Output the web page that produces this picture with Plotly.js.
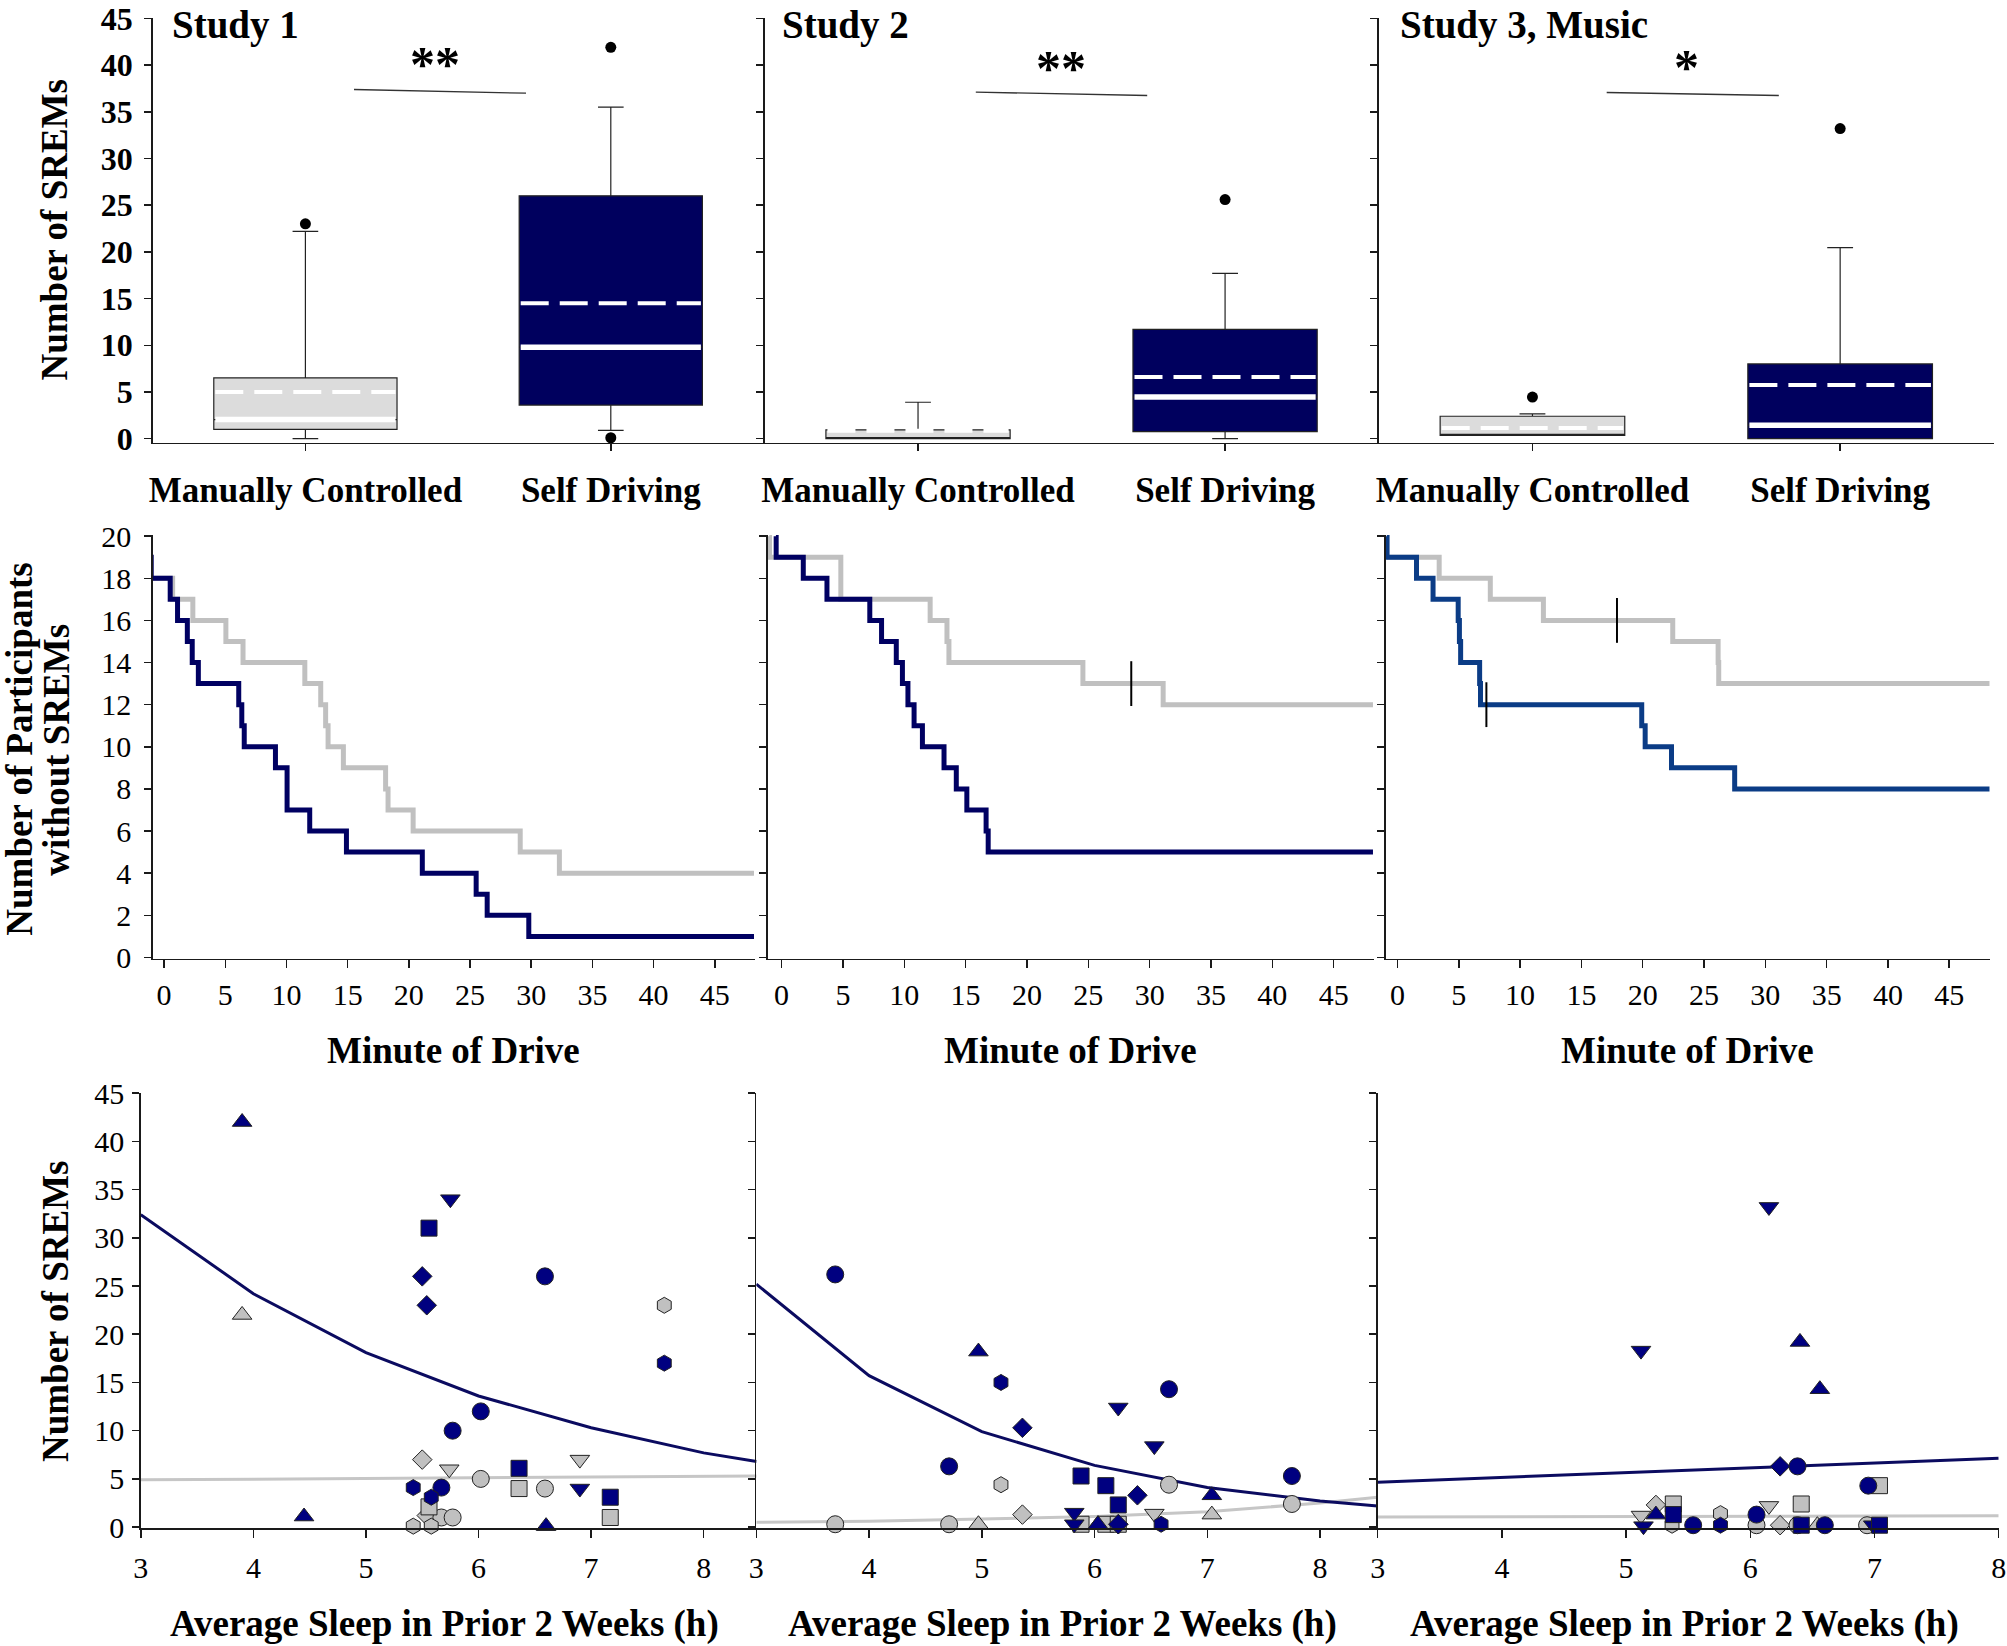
<!DOCTYPE html>
<html><head><meta charset="utf-8">
<script src="https://cdn.plot.ly/plotly-3.0.1.min.js"></script>
<style>html,body{margin:0;padding:0;background:#fff}#chart{width:2007px;height:1646px}</style>
</head><body><div id="chart"></div>
<script>
// ================= DATA =================
const groups = ['Manually Controlled', 'Self Driving'];
const studies = ['Study 1', 'Study 2', 'Study 3, Music'];
const sigLabels = ['**', '**', '*'];

// Box plot statistics, one row per study: [manual, self]
const boxQ1     = [[1.0, 3.6],  [0.0, 0.75], [0.35, 0.0]];
const boxMedian = [[2.05, 9.8], [0.0, 4.45], [0.35, 1.45]];
const boxQ3     = [[6.5, 26.0], [0.95, 11.7], [2.4, 8.0]];
const boxLower  = [[0.0, 0.9],  [0.0, 0.0],  [0.35, 0.0]];
const boxUpper  = [[22.2, 35.5],[3.9, 17.7], [2.65, 20.45]];
const boxMean   = [[5.0, 14.5], [0.85, 6.6], [1.15, 5.75]];
const outManual = [[23.0], [], [4.45]];
const outSelf   = [[41.9, 0.1], [25.6], [33.2]];

// Kaplan-Meier style step curves: minute of drive vs participants without SREMs
const km1ManT = [-1.1, 0.7, 2.35, 5.05, 6.45, 11.5, 12.8, 13.2, 13.4, 14.65, 18.1, 18.3, 20.35, 29.1, 32.3, 48.2];
const km1ManN = [18, 17, 16, 15, 14, 13, 12, 11, 10, 9, 8, 7, 6, 5, 4, 4];
const km1SelfT = [-1.1, -1.05, 0.5, 1.1, 1.9, 2.3, 2.8, 6.1, 6.35, 6.55, 9.1, 10.05, 11.9, 14.9, 21.1, 25.5, 26.4, 29.8, 48.2];
const km1SelfN = [19, 18, 17, 16, 15, 14, 13, 12, 11, 10, 9, 7, 6, 5, 4, 3, 2, 1, 1];
const km2ManT = [-1.0, -0.98, 4.83, 12.11, 13.48, 13.64, 24.56, 31.1, 48.2];
const km2ManN = [20, 19, 17, 16, 15, 14, 13, 12, 12];
const km2SelfT = [-0.46, -0.44, 1.77, 3.7, 7.19, 8.15, 9.35, 9.85, 10.3, 10.8, 11.48, 13.24, 14.24, 15.1, 16.67, 16.84, 48.2];
const km2SelfN = [20, 19, 18, 17, 16, 15, 14, 13, 12, 11, 10, 9, 8, 7, 6, 5, 5];
const km3ManT = [-0.87, 3.4, 7.57, 11.9, 22.45, 26.15, 26.2, 48.3];
const km3ManN = [19, 18, 17, 16, 15, 14, 13, 13];
const km3SelfT = [-0.87, -0.85, 1.55, 2.9, 4.95, 5.05, 5.15, 6.7, 6.77, 19.92, 20.2, 22.35, 27.5, 48.3];
const km3SelfN = [20, 19, 18, 17, 16, 15, 14, 13, 12, 11, 10, 9, 8, 8];
// censored observations
const km2ManCensT = [28.5];  const km2ManCensN = [13];
const km3ManCensT = [17.9];  const km3ManCensN = [16];
const km3SelfCensT = [7.25]; const km3SelfCensN = [12];

// Scatter: average sleep (h) vs number of SREMs; participant marker group letter
const sc1SelfX = [3.90, 4.45, 6.60, 5.75, 6.90, 5.56, 6.36, 7.17, 5.50, 5.54, 6.59, 6.02, 5.77, 5.67, 7.65, 5.42, 5.58];
const sc1SelfY = [42.0, 1.1, 0.1, 34.0, 4.0, 31.0, 6.1, 3.1, 26.0, 23.0, 26.0, 12.0, 10.0, 4.1, 17.0, 4.1, 3.1];
const sc1SelfG = ['B','B','B','C','C','D','D','D','E','E','A','A','A','A','F','F','F'];
const sc1ManX = [3.90, 5.74, 6.90, 5.50, 5.54, 6.02, 6.59, 5.67, 5.77, 6.36, 7.17, 5.56, 7.65, 5.42, 5.58];
const sc1ManY = [22.0, 6.0, 7.0, 7.0, 1.2, 5.0, 4.0, 1.0, 1.0, 4.0, 1.0, 2.1, 23.0, 0.1, 0.1];
const sc1ManG = ['B','C','C','E','E','A','A','A','A','D','D','D','F','F','F'];
const reg1X = [3, 4, 5, 6, 7, 8, 8.47];
const reg1Self = [32.4, 24.2, 18.1, 13.6, 10.3, 7.7, 6.8];
const reg1ManX = [3, 8.47];
const reg1Man = [4.9, 5.3];

const sc2SelfX = [3.70, 4.71, 6.66, 7.75, 5.17, 6.59, 4.97, 7.04, 6.03, 5.36, 6.38, 6.21, 6.21, 6.53, 5.82, 5.82, 5.88, 6.10, 6.21];
const sc2SelfY = [26.2, 6.3, 14.3, 5.3, 15.0, 0.3, 18.2, 3.3, 0.3, 10.3, 3.3, 0.3, 12.4, 8.4, 1.5, 0.3, 5.3, 4.3, 2.3];
const sc2SelfG = ['A','A','A','A','F','F','B','B','B','E','E','E','C','C','C','C','D','D','D'];
const sc2ManX = [3.70, 4.71, 6.66, 7.75, 5.17, 4.97, 7.04, 6.03, 5.36, 6.21, 6.53, 5.88, 6.10, 6.21];
const sc2ManY = [0.3, 0.3, 4.4, 2.4, 4.4, 0.3, 1.3, 0.3, 1.3, 0.3, 1.4, 0.3, 0.3, 0.3];
const sc2ManG = ['A','A','A','A','F','B','B','B','E','E','C','D','D','D'];
const reg2X = [3, 4, 5, 6, 7, 8, 8.51];
const reg2Self = [25.2, 15.7, 9.9, 6.4, 4.1, 2.7, 2.2];
const reg2Man = [0.5, 0.6, 0.85, 1.1, 1.6, 2.5, 3.1];

const sc3SelfX = [6.15, 5.12, 5.14, 6.99, 6.40, 6.56, 5.24, 6.24, 6.38, 6.95, 6.05, 5.54, 6.60, 5.76, 5.38, 6.41, 7.04];
const sc3SelfY = [33.2, 18.3, 0.1, 0.2, 19.2, 14.3, 1.3, 6.3, 6.3, 4.3, 1.3, 0.2, 0.2, 0.2, 1.3, 0.2, 0.2];
const sc3SelfG = ['C','C','C','C','B','B','B','E','A','A','A','A','A','F','D','D','D'];
const sc3ManX = [7.04, 6.41, 5.38, 5.24, 6.24, 5.12, 6.15, 5.76, 5.37, 6.05, 6.38, 6.94, 6.54];
const sc3ManY = [4.3, 2.4, 2.4, 2.3, 0.2, 1.2, 2.2, 1.4, 0.2, 0.2, 0.2, 0.2, 0.2];
const sc3ManG = ['D','D','D','E','E','C','C','F','F','A','A','A','B'];
const reg3X = [3, 8];
const reg3Self = [4.65, 7.15];
const reg3Man = [1.05, 1.17];

// ================= STYLE =================
const FONT = 'Liberation Serif, "Times New Roman", serif';
const W = 2007, H = 1646;
const px = v => v / W;
const py = v => 1 - v / H;
const NAVY_BOX = '#00005e', LIGHT_BOX = '#dcdcdc';
const KM_NAVY = '#000062', KM_GRAY = '#c0c0c0', KM_BLUE = '#0b3c86';
const SC_NAVY = '#000080', SC_GRAY = '#c0c0c0';
const REG_NAVY = '#0b0b60', REG_GRAY = '#c6c6c6';
const AX = '#1a1a1a';
const SYM = {A:'circle', B:'triangle-up', C:'triangle-down', D:'square', E:'diamond', F:'hexagon'};
const SYMSIZE = {A:17, B:17, C:17, D:16, E:15, F:16};
const BOXW = 0.6;

const traces = [];
const layout = {
  width: W, height: H, margin: {l:0, r:0, t:0, b:0},
  paper_bgcolor: '#fff', plot_bgcolor: 'rgba(0,0,0,0)',
  showlegend: false, font: {family: FONT, color: '#000'},
  annotations: [], shapes: []
};
function axisBase(o) {
  return Object.assign({showline:true, linecolor:AX, linewidth:1.5, ticks:'outside', tickcolor:AX,
    tickwidth:1.5, ticklen:7, showgrid:false, zeroline:false, fixedrange:true, ticklabeloverflow:'allow'}, o);
}

// ---------- Row 1: box plots ----------
const topX = [[152.7, 763.5], [764.5, 1378.6], [1378.6, 1994]];
const topY = [18.2, 442.7];
for (let s = 0; s < 3; s++) {
  const n = s + 1;
  const xa = 'x' + n, ya = 'y' + n;
  layout['xaxis' + n] = axisBase({domain:[px(topX[s][0]), px(topX[s][1])], range:[-0.5, 1.5], anchor:ya,
    tickvals:[0, 1], ticktext:groups, tickfont:{family:FONT, size:35, weight:'bold'}, ticklabelstandoff:9});
  layout['yaxis' + n] = axisBase({domain:[py(topY[1]), py(topY[0])], range:[-0.43, 45.02], anchor:xa,
    tickvals:[0,5,10,15,20,25,30,35,40,45], showticklabels:s === 0,
    tickfont:{family:FONT, size:32, weight:'bold'}, ticklabelstandoff:5});
  for (let g = 0; g < 2; g++) {
    traces.push({type:'box', x:[g], q1:[boxQ1[s][g]], median:[boxMedian[s][g]], q3:[boxQ3[s][g]],
      lowerfence:[boxLower[s][g]], upperfence:[boxUpper[s][g]], width:BOXW, whiskerwidth:0.14,
      fillcolor: g === 0 ? LIGHT_BOX : NAVY_BOX, line:{color:'#222', width:1.2},
      boxpoints:false, hoverinfo:'skip', xaxis:xa, yaxis:ya});
    if (boxMedian[s][g] > boxQ1[s][g]) {
      traces.push({type:'scatter', mode:'lines', x:[g - BOXW/2 + 0.005, g + BOXW/2 - 0.005],
        y:[boxMedian[s][g], boxMedian[s][g]], line:{color:'#fff', width:5.5}, hoverinfo:'skip', xaxis:xa, yaxis:ya});
    }
    traces.push({type:'scatter', mode:'lines', x:[g - BOXW/2 + 0.005, g + BOXW/2 - 0.005],
      y:[boxMean[s][g], boxMean[s][g]], line:{color:'#fff', width:4, dash:'28px,11px'}, hoverinfo:'skip', xaxis:xa, yaxis:ya});
    const outs = g === 0 ? outManual[s] : outSelf[s];
    if (outs.length) {
      traces.push({type:'scatter', mode:'markers', x:outs.map(() => g), y:outs, cliponaxis:false,
        marker:{color:'#000', size:11, opacity:1}, hoverinfo:'skip', xaxis:xa, yaxis:ya});
    }
  }
}
// titles, significance
const studyLeft = [170, 779.6, 1398];
studies.forEach((t, i) => layout.annotations.push({text:t, xref:'paper', yref:'paper', x:px(studyLeft[i]), y:py(25),
  xanchor:'left', yanchor:'middle', showarrow:false, font:{family:FONT, size:39, weight:'bold'}}));
const sigLine = [[354, 89.5, 526, 93.2], [975.8, 92.2, 1147.2, 95.5], [1606.7, 92.5, 1778.8, 95.5]];
const sigPos = [[435, 64], [1061, 68], [1686, 67]];
sigLabels.forEach((t, i) => {
  layout.annotations.push({text:t, xref:'paper', yref:'paper', x:px(sigPos[i][0]), y:py(sigPos[i][1]),
    xanchor:'center', yanchor:'middle', showarrow:false, font:{family:FONT, size:50, weight:'bold'}});
  const L = sigLine[i];
  layout.shapes.push({type:'line', xref:'paper', yref:'paper', x0:px(L[0]), y0:py(L[1]), x1:px(L[2]), y1:py(L[3]),
    line:{color:'#333', width:1.3}});
});
layout.annotations.push({text:'Number of SREMs', xref:'paper', yref:'paper', x:px(54), y:py(229.5), textangle:-90,
  xanchor:'center', yanchor:'middle', showarrow:false, font:{family:FONT, size:37, weight:'bold'}});

// ---------- Row 2: survival curves ----------
const midX = [[152.7, 755.2, -0.93], [767.7, 1374.2, -1.13], [1385.6, 1989.7, -0.97]];
const midY = [535.1, 958.5];
const kmSets = [
  [km1ManT, km1ManN, km1SelfT, km1SelfN, KM_NAVY, [], [], [], []],
  [km2ManT, km2ManN, km2SelfT, km2SelfN, KM_NAVY, km2ManCensT, km2ManCensN, [], []],
  [km3ManT, km3ManN, km3SelfT, km3SelfN, KM_BLUE, km3ManCensT, km3ManCensN, km3SelfCensT, km3SelfCensN]
];
for (let s = 0; s < 3; s++) {
  const n = s + 4;
  const xa = 'x' + n, ya = 'y' + n;
  layout['xaxis' + n] = axisBase({domain:[px(midX[s][0]), px(midX[s][1])], range:[midX[s][2], 48.3], anchor:ya,
    tickvals:[0,5,10,15,20,25,30,35,40,45], ticklen:8, tickfont:{family:FONT, size:30}, ticklabelstandoff:1});
  layout['yaxis' + n] = axisBase({domain:[py(midY[1]), py(midY[0])], range:[-0.05, 20.05], anchor:xa,
    tickvals:[0,2,4,6,8,10,12,14,16,18,20], showticklabels:s === 0, tickfont:{family:FONT, size:30}, ticklabelstandoff:7});
  const k = kmSets[s];
  traces.push({type:'scatter', mode:'lines', x:k[0], y:k[1], line:{color:KM_GRAY, width:5, shape:'hv'}, hoverinfo:'skip', xaxis:xa, yaxis:ya});
  traces.push({type:'scatter', mode:'lines', x:k[2], y:k[3], line:{color:k[4], width:5, shape:'hv'}, hoverinfo:'skip', xaxis:xa, yaxis:ya});
  [[k[5], k[6]], [k[7], k[8]]].forEach(c => {
    if (c[0].length) traces.push({type:'scatter', mode:'markers', x:c[0], y:c[1], cliponaxis:false,
      marker:{symbol:'line-ns', size:32, opacity:1, line:{color:'#000', width:2}}, hoverinfo:'skip', xaxis:xa, yaxis:ya});
  });
  layout.annotations.push({text:'Minute of Drive', xref:'paper', yref:'paper', x:px((midX[s][0] + midX[s][1]) / 2), y:py(1050),
    xanchor:'center', yanchor:'middle', showarrow:false, font:{family:FONT, size:37, weight:'bold'}});
}
layout.annotations.push({text:'Number of Participants', xref:'paper', yref:'paper', x:px(20), y:py(749.7), textangle:-90,
  xanchor:'center', yanchor:'middle', showarrow:false, font:{family:FONT, size:37, weight:'bold'}});
layout.annotations.push({text:'without SREMs', xref:'paper', yref:'paper', x:px(57), y:py(749.7), textangle:-90,
  xanchor:'center', yanchor:'middle', showarrow:false, font:{family:FONT, size:37, weight:'bold'}});

// ---------- Row 3: scatter vs sleep ----------
const botX = [[140.8, 756.6, 8.47], [756.3, 1377.6, 8.51], [1377.7, 1998.7, 8]];
const botY = [1092.9, 1528.1];
const scSets = [
  [sc1ManX, sc1ManY, sc1ManG, sc1SelfX, sc1SelfY, sc1SelfG, reg1X, reg1Self, reg1ManX, reg1Man],
  [sc2ManX, sc2ManY, sc2ManG, sc2SelfX, sc2SelfY, sc2SelfG, reg2X, reg2Self, reg2X, reg2Man],
  [sc3ManX, sc3ManY, sc3ManG, sc3SelfX, sc3SelfY, sc3SelfG, reg3X, reg3Self, reg3X, reg3Man]
];
for (let s = 0; s < 3; s++) {
  const n = s + 7;
  const xa = 'x' + n, ya = 'y' + n;
  layout['xaxis' + n] = axisBase({domain:[px(botX[s][0]), px(botX[s][1])], range:[3, botX[s][2]], anchor:ya,
    tickvals:[3,4,5,6,7,8], ticklen:8, tickfont:{family:FONT, size:30}, ticklabelstandoff:4});
  layout['yaxis' + n] = axisBase({domain:[py(botY[1]), py(botY[0])], range:[-0.1, 45.02], anchor:xa,
    tickvals:[0,5,10,15,20,25,30,35,40,45], showticklabels:s === 0, tickfont:{family:FONT, size:30}, ticklabelstandoff:2});
  const d = scSets[s];
  traces.push({type:'scatter', mode:'lines', x:d[8], y:d[9], line:{color:REG_GRAY, width:3}, hoverinfo:'skip', xaxis:xa, yaxis:ya});
  traces.push({type:'scatter', mode:'lines', x:d[6], y:d[7], line:{color:REG_NAVY, width:3}, hoverinfo:'skip', xaxis:xa, yaxis:ya});
  traces.push({type:'scatter', mode:'markers', x:d[0], y:d[1], cliponaxis:false, hoverinfo:'skip', xaxis:xa, yaxis:ya,
    marker:{symbol:d[2].map(g => SYM[g]), size:d[2].map(g => SYMSIZE[g]), opacity:1, color:SC_GRAY, line:{color:'#222', width:1}}});
  traces.push({type:'scatter', mode:'markers', x:d[3], y:d[4], cliponaxis:false, hoverinfo:'skip', xaxis:xa, yaxis:ya,
    marker:{symbol:d[5].map(g => SYM[g]), size:d[5].map(g => SYMSIZE[g]), opacity:1, color:SC_NAVY, line:{color:'#222', width:1}}});
  layout.annotations.push({text:'Average Sleep in Prior 2 Weeks (h)', xref:'paper', yref:'paper',
    x:px((botX[s][0] + botX[s][1]) / 2 - 4), y:py(1624), xanchor:'center', yanchor:'middle', showarrow:false,
    font:{family:FONT, size:37, weight:'bold'}});
}
layout.annotations.push({text:'Number of SREMs', xref:'paper', yref:'paper', x:px(55), y:py(1311), textangle:-90,
  xanchor:'center', yanchor:'middle', showarrow:false, font:{family:FONT, size:37, weight:'bold'}});

Plotly.newPlot('chart', traces, layout, {staticPlot:true, displayModeBar:false});
</script></body></html>
